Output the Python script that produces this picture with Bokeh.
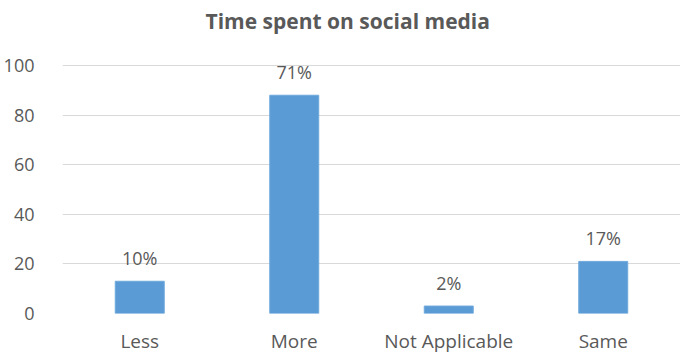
from bokeh.plotting import figure
from bokeh.models import ColumnDataSource, LabelSet, Range1d, FixedTicker, Title
from bokeh.core.properties import value
from bokeh.embed import file_html
from bokeh.resources import INLINE

categories = ["Less", "More", "Not Applicable", "Same"]
counts = [13, 88, 3, 21]
labels = ["10%", "71%", "2%", "17%"]
y_ticks = [0, 20, 40, 60, 80, 100]

FONT = "Open Sans"
GRAY = "#595959"

src = ColumnDataSource(data=dict(cat=categories, val=counts, lab=labels))

p = figure(x_range=categories, y_range=Range1d(0, 100.8), width=680, height=356,
           output_backend="svg", toolbar_location=None, title=None,
           min_border_left=61, min_border_right=0, min_border_top=63, min_border_bottom=43)
p.x_range.range_padding = 0

# spacer keeps the title well above the plot area
p.add_layout(Title(text=" ", text_font_size="16px", standoff=10), "above")
p.add_layout(Title(text="Time spent on social media", align="left", offset=143, text_font=FONT,
                   text_font_size="21px", text_font_style="bold", text_color=GRAY,
                   standoff=0), "above")

p.vbar(x="cat", top="val", width=0.317, source=src, fill_color="#5B9BD5", line_color="#6FA8DC", line_width=1)

p.add_layout(LabelSet(x="cat", y="val", text="lab", source=src, y_offset=16,
                      text_align="center", text_baseline="alphabetic",
                      text_font_size=value("18px"), text_color=value(GRAY), text_font=value(FONT)))

p.yaxis.ticker = FixedTicker(ticks=y_ticks)
for ax in (p.xaxis, p.yaxis):
    ax.axis_line_color = None
    ax.major_tick_line_color = None
    ax.minor_tick_line_color = None
    ax.major_label_text_font_size = "18px"
    ax.major_label_text_color = GRAY
    ax.major_label_text_font = FONT
p.xaxis.major_label_text_font_size = "19px"
p.yaxis.major_label_standoff = 22
p.xaxis.major_label_standoff = 8

p.xgrid.grid_line_color = None
p.ygrid.grid_line_color = "#D9D9D9"
p.ygrid.grid_line_width = 1
p.outline_line_color = None

open("out.html", "w").write(file_html(p, INLINE))
